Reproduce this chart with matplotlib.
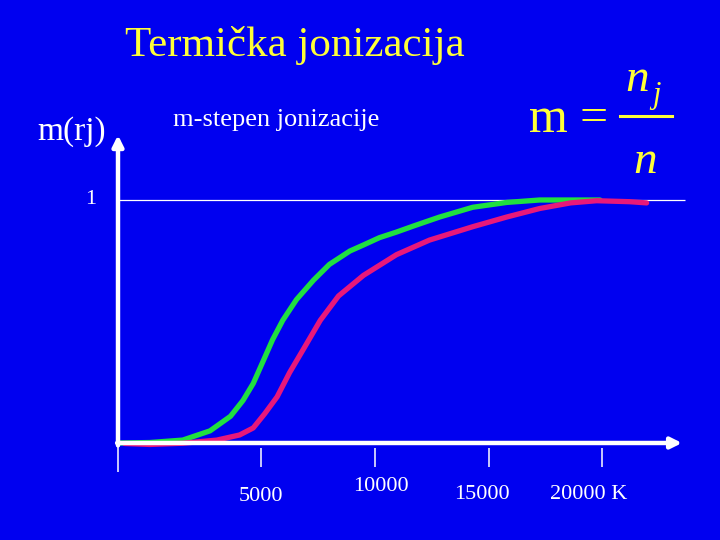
import matplotlib.pyplot as plt
from matplotlib.lines import Line2D

# temperatura (K) i stepen jonizacije m, ocitano sa slike
t_green = [-1200, 100, 1550, 2750, 3650, 4200, 4650, 5100, 5500, 5950, 6550, 7300,
           8000, 8900, 9500, 10200, 10950, 11700, 12850, 14300, 15800, 17250, 19000, 19900]
m_green = [0.0, 0.002, 0.012, 0.05, 0.11, 0.175, 0.245, 0.34, 0.425, 0.505, 0.59, 0.67,
           0.735, 0.79, 0.815, 0.845, 0.868, 0.893, 0.93, 0.97, 0.99, 1.0, 1.0, 1.0]

t_red = [-1000, 100, 1550, 3050, 4050, 4650, 5150, 5700, 6250, 6850, 7600,
         8400, 9500, 10950, 12400, 14300, 15800, 17250, 18600, 19750, 21200, 21950]
m_red = [-0.002, -0.006, -0.001, 0.012, 0.033, 0.062, 0.12, 0.19, 0.29, 0.385, 0.505,
         0.605, 0.69, 0.775, 0.835, 0.89, 0.93, 0.965, 0.988, 0.997, 0.993, 0.988]

tick_vals = [5000, 10000, 15000, 20000]
tick_labels = ['5000', '10000', '15000', '20000 K']

BG = '#0000F0'
YEL = '#FFFF38'
SERIF = ['Liberation Serif', 'DejaVu Serif']

fig = plt.figure(figsize=(7.2, 5.4), dpi=100)
fig.patch.set_facecolor(BG)
ax = fig.add_axes([0, 0, 1, 1])
ax.set_facecolor(BG)
ax.set_xlim(-6486, 25176)
ax.set_ylim(-0.3992, 1.823)
ax.axis('off')

x0 = -1297  # pocetak osa
# osa y i osa x sa strelicama
ax.annotate('', xy=(x0, 1.267), xytext=(x0, -0.01),
            arrowprops=dict(arrowstyle='-|>', color='white', lw=3.2,
                            mutation_scale=16, shrinkA=0, shrinkB=0))
ax.annotate('', xy=(23505, 0.0), xytext=(x0 - 40, 0.0),
            arrowprops=dict(arrowstyle='-|>', color='white', lw=3.2,
                            mutation_scale=16, shrinkA=0, shrinkB=0))
ax.hlines(1.0, x0, 23637, color='white', lw=0.9)

# podeoci
ax.vlines(x0, -0.12, 0, color='white', lw=1.1)
ax.vlines(tick_vals, -0.02, -0.10, color='white', lw=1.1)
label_dx = [0, 260, -300, -620]
label_y = [-0.222, -0.181, -0.21, -0.21]
for t, lab, dx, ly in zip(tick_vals, tick_labels, label_dx, label_y):
    ax.text(t + dx, ly, lab, color='white', fontsize=16, family=SERIF,
            ha='center', va='center')

ax.plot(t_green, m_green, color='#20E040', lw=3.8, solid_capstyle='round',
        solid_joinstyle='round')
ax.plot(t_red, m_red, color='#E8187A', lw=3.8, solid_capstyle='round',
        solid_joinstyle='round')

# tekstovi
fig.text(0.410, 0.915, 'Termička jonizacija', color=YEL, fontsize=31,
         family=SERIF, ha='center', va='center')
fig.text(0.099, 0.757, 'm(rj)', color='white', fontsize=24, family=SERIF,
         ha='center', va='center')
fig.text(0.383, 0.777, 'm-stepen jonizacije', color='white', fontsize=19,
         family=SERIF, ha='center', va='center')
fig.text(0.126, 0.630, '1', color='white', fontsize=16, family=SERIF,
         ha='center', va='center')

# formula m = n_j / n
fig.text(0.762, 0.778, 'm', color=YEL, fontsize=36, family=SERIF,
         ha='center', va='center')
fig.text(0.824, 0.780, '=', color=YEL, fontsize=36, family=SERIF,
         ha='center', va='center')
fig.add_artist(Line2D([620 / 720, 672 / 720], [1 - 116 / 540, 1 - 116 / 540],
                      color=YEL, lw=2.2, transform=fig.transFigure))
fig.text(0.885, 0.852, 'n', color=YEL, fontsize=34, family=SERIF,
         style='italic', ha='center', va='center')
fig.text(0.912, 0.824, 'j', color=YEL, fontsize=22, family=SERIF,
         style='italic', ha='center', va='center')
fig.text(0.896, 0.700, 'n', color=YEL, fontsize=34, family=SERIF,
         style='italic', ha='center', va='center')

fig.savefig('out.png', dpi=100, facecolor=BG)
